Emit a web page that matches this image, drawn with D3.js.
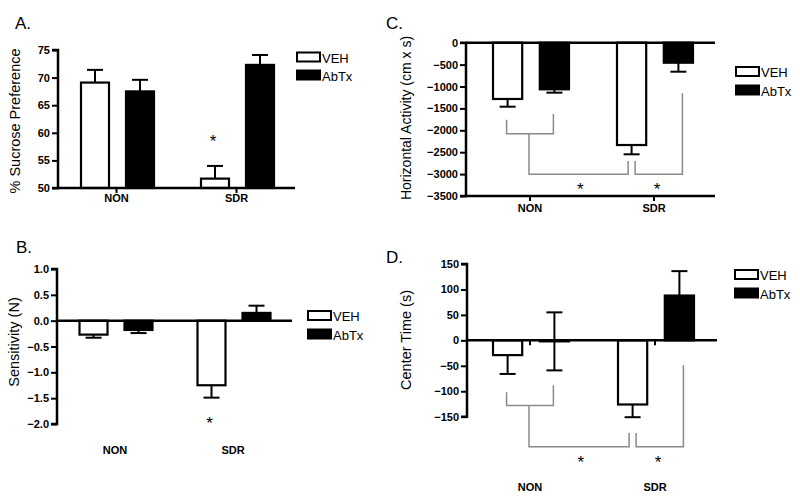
<!DOCTYPE html>
<html><head><meta charset="utf-8">
<script src="https://cdn.jsdelivr.net/npm/d3@7"></script>
<style>
html,body{margin:0;padding:0;background:#fff;}
svg{display:block;font-family:"Liberation Sans",Arial,sans-serif;}
</style></head>
<body>
<svg id="chart" width="800" height="497"></svg>
<script>
// ---------- DATA ----------
const categories = ["NON", "SDR"];
const series = ["VEH", "AbTx"];

// A. % Sucrose Preference
const sucroseVEH = [69.1, 51.7];
const sucroseVEHErr = [2.3, 2.3];
const sucroseAbTx = [67.5, 72.3];
const sucroseAbTxErr = [2.1, 1.8];
const sucroseTicks = [50, 55, 60, 65, 70, 75];

// B. Sensitivity (N)
const sensVEH = [-0.27, -1.25];
const sensVEHErr = [0.06, 0.24];
const sensAbTx = [-0.18, 0.15];
const sensAbTxErr = [0.06, 0.14];
const sensTicks = [-2.0, -1.5, -1.0, -0.5, 0.0, 0.5, 1.0];

// C. Horizontal Activity (cm x s)
const horizVEH = [-1285, -2336];
const horizVEHErr = [176, 212];
const horizAbTx = [-1064, -457];
const horizAbTxErr = [77, 205];
const horizTicks = [-3500, -3000, -2500, -2000, -1500, -1000, -500, 0];
// bracket levels (data units): [inner left top, inner right top, inner bottom, outer bottom, outer SDR-VEH top, outer SDR-AbTx top]
const horizBrackets = [-1760, -1630, -2080, -3005, -2700, -1155];
const horizStarLevel = -3250;

// D. Center Time (s)
const centerVEH = [-29, -126];
const centerVEHErr = [37, 25];
const centerAbTx = [-2, 88];
const centerAbTxErr = [57, 48];
const centerTicks = [-150, -100, -50, 0, 50, 100, 150];
const centerBrackets = [-102, -88, -128, -209, -182, -49];
const centerStarLevel = -232;

// ---------- DRAW ----------
const svg = d3.select("#chart");
const FONT = '"Liberation Sans", Arial, sans-serif';

function panel(cfg) {
  const g = svg.append("g");
  const y = d3.scaleLinear().domain(cfg.domain).range(cfg.yRange);
  const xc = d3.scalePoint().domain(categories).range(cfg.catX);
  const xs = d3.scaleBand().domain(series).range([-cfg.half, cfg.half]).paddingInner(1/3);
  const bw = xs.bandwidth();
  const vals = {VEH: cfg.veh, AbTx: cfg.abtx};
  const errs = {VEH: cfg.vehErr, AbTx: cfg.abtxErr};
  const base = cfg.base;

  // title
  g.append("text").attr("x", cfg.title[1]).attr("y", cfg.title[2])
    .attr("font-size", 17).attr("fill", "#000").text(cfg.title[0]);

  // y label
  g.append("text")
    .attr("transform", `translate(${cfg.ylab[1]},${cfg.ylab[2]}) rotate(-90)`)
    .attr("text-anchor", "middle").attr("dominant-baseline", "central")
    .attr("font-size", cfg.ylab[3]).attr("fill", "#000").text(cfg.ylab[0]);

  // bars
  series.forEach(s => {
    categories.forEach((c, i) => {
      const v = vals[s][i];
      const x0 = xc(c) + xs(s);
      const yTop = Math.min(y(v), y(base)), yBot = Math.max(y(v), y(base));
      const e = errs[s][i];
      const dir = v >= base ? 1 : -1;
      const cx = x0 + bw / 2;
      const ends = s === "AbTx" ? [v + e, v - e] : [v + dir * e];
      ends.forEach(ev => {
        g.append("line").attr("x1", cx).attr("x2", cx)
          .attr("y1", y(v)).attr("y2", y(ev))
          .attr("stroke", "#000").attr("stroke-width", 2);
        g.append("line").attr("x1", cx - 8).attr("x2", cx + 8)
          .attr("y1", y(ev)).attr("y2", y(ev))
          .attr("stroke", "#000").attr("stroke-width", 2);
      });
      g.append("rect").attr("x", x0 + 1).attr("y", yTop)
        .attr("width", bw - 2).attr("height", Math.max(yBot - yTop, 0.5))
        .attr("fill", s === "VEH" ? "#fff" : "#000")
        .attr("stroke", "#000").attr("stroke-width", 2.2);
    });
  });

  // y axis
  const yAxis = d3.axisLeft(y).tickValues(cfg.ticks).tickSize(6).tickPadding(2)
    .tickFormat(cfg.fmt);
  const ya = g.append("g").attr("transform", `translate(${cfg.axisX},0)`).call(yAxis);
  ya.select(".domain").attr("stroke-width", 2.5).attr("d", `M-6,${cfg.yRange[1]}H0V${cfg.yRange[0]}H-6`);
  ya.selectAll(".tick line").attr("stroke-width", 2);
  ya.selectAll(".tick text").attr("font-size", 11).attr("font-weight", "bold")
    .attr("font-family", FONT).attr("fill", "#000");

  // horizontal baseline
  g.append("line").attr("x1", cfg.axisX).attr("x2", cfg.axisEnd)
    .attr("y1", y(cfg.hline)).attr("y2", y(cfg.hline))
    .attr("stroke", "#000").attr("stroke-width", 2.5);
  if (cfg.bottomLine) {
    g.append("line").attr("x1", cfg.axisX).attr("x2", cfg.axisEnd)
      .attr("y1", y(cfg.domain[0])).attr("y2", y(cfg.domain[0]))
      .attr("stroke", "#000").attr("stroke-width", 2.5);
  }
  // category ticks
  if (cfg.catTickAt !== null) {
    categories.forEach(c => {
      g.append("line").attr("x1", xc(c) - 1).attr("x2", xc(c) - 1)
        .attr("y1", y(cfg.catTickAt)).attr("y2", y(cfg.catTickAt) + 5)
        .attr("stroke", "#000").attr("stroke-width", 2);
    });
  }
  // category labels
  categories.forEach(c => {
    g.append("text").attr("x", xc(c) - 1).attr("y", cfg.catY)
      .attr("text-anchor", "middle").attr("font-size", 11).attr("font-weight", "bold")
      .attr("fill", "#000").text(c);
  });

  // legend
  series.forEach((s, i) => {
    const ly = cfg.leg[1] + i * cfg.leg[2];
    g.append("rect").attr("x", cfg.leg[0]).attr("y", ly)
      .attr("width", 23).attr("height", 9)
      .attr("fill", s === "VEH" ? "#fff" : "#000")
      .attr("stroke", "#000").attr("stroke-width", 2);
    g.append("text").attr("x", cfg.leg[0] + 25).attr("y", ly + 10)
      .attr("font-size", 13).attr("fill", "#000").text(s);
  });

  // brackets
  if (cfg.brackets) {
    const b = cfg.brackets;
    const nonV = xc("NON") + xs("VEH") + bw / 2 - 1;
    const nonA = xc("NON") + xs("AbTx") + bw / 2 - 1;
    const sdrV = xc("SDR") + xs("VEH") + bw / 2;
    const sdrA = xc("SDR") + xs("AbTx") + bw / 2 + 4;
    const mid = xc("NON") - 2;
    const path = d3.path();
    path.moveTo(nonV, y(b[0])); path.lineTo(nonV, y(b[2])); path.lineTo(nonA, y(b[2])); path.lineTo(nonA, y(b[1]));
    path.moveTo(mid, y(b[2])); path.lineTo(mid, y(b[3])); path.lineTo(sdrV - 3.5, y(b[3])); path.lineTo(sdrV - 3.5, y(b[4]));
    path.moveTo(sdrV + 3.5, y(b[4])); path.lineTo(sdrV + 3.5, y(b[3])); path.lineTo(sdrA, y(b[3])); path.lineTo(sdrA, y(b[5]));
    g.append("path").attr("d", path.toString()).attr("fill", "none")
      .attr("stroke", "#8a8a8a").attr("stroke-width", 1.5);
    [(mid + sdrV) / 2, (sdrV + sdrA) / 2].forEach(sx => {
      g.append("text").attr("x", sx).attr("y", y(cfg.star) + 10)
        .attr("text-anchor", "middle").attr("font-size", 17).attr("fill", "#000").text("*");
    });
  }
  if (cfg.single) {
    const sx = xc(cfg.single[0]) + xs(cfg.single[1]) + bw / 2 - 2;
    g.append("text").attr("x", sx).attr("y", y(cfg.single[2]) + 10)
      .attr("text-anchor", "middle").attr("font-size", 17).attr("fill", "#000").text("*");
  }
}

panel({
  title: ["A.", 15, 29], ylab: ["% Sucrose Preference", 15, 121, 14.5],
  domain: [50, 75], yRange: [188, 50], ticks: sucroseTicks, fmt: d3.format("d"),
  catX: [117.5, 237.5], half: 37.5, axisX: 58, axisEnd: 295,
  veh: sucroseVEH, vehErr: sucroseVEHErr, abtx: sucroseAbTx, abtxErr: sucroseAbTxErr,
  base: 50, hline: 50, bottomLine: false, catTickAt: 50, catY: 202,
  leg: [297, 52.5, 18], single: ["SDR", "VEH", 59.3]
});

panel({
  title: ["B.", 16, 253], ylab: ["Sensitivity (N)", 14, 342, 14.5],
  domain: [-2, 1], yRange: [424, 269], ticks: sensTicks, fmt: d3.format(".1f"),
  catX: [116, 234], half: 37.5, axisX: 57, axisEnd: 292,
  veh: sensVEH, vehErr: sensVEHErr, abtx: sensAbTx, abtxErr: sensAbTxErr,
  base: 0, hline: 0, bottomLine: false, catTickAt: null, catY: 454,
  leg: [308, 311, 18.5], single: ["SDR", "VEH", -1.9]
});

panel({
  title: ["C.", 386, 29], ylab: ["Horizontal Activity (cm x s)", 406, 118, 14],
  domain: [-3500, 0], yRange: [196, 42.7], ticks: horizTicks, fmt: d3.format("d"),
  catX: [531, 655], half: 39, axisX: 466, axisEnd: 715,
  veh: horizVEH, vehErr: horizVEHErr, abtx: horizAbTx, abtxErr: horizAbTxErr,
  base: 0, hline: 0, bottomLine: true, catTickAt: -3500, catY: 212,
  leg: [736, 67, 18.5], brackets: horizBrackets, star: horizStarLevel
});

panel({
  title: ["D.", 386, 263], ylab: ["Center Time (s)", 406, 340, 14.5],
  domain: [-150, 150], yRange: [416.7, 264], ticks: centerTicks, fmt: d3.format("d"),
  catX: [531, 656], half: 39, axisX: 467, axisEnd: 717,
  veh: centerVEH, vehErr: centerVEHErr, abtx: centerAbTx, abtxErr: centerAbTxErr,
  base: 0, hline: 0, bottomLine: false, catTickAt: 0, catY: 491,
  leg: [735, 270, 18.5], brackets: centerBrackets, star: centerStarLevel
});
</script>
</body></html>
